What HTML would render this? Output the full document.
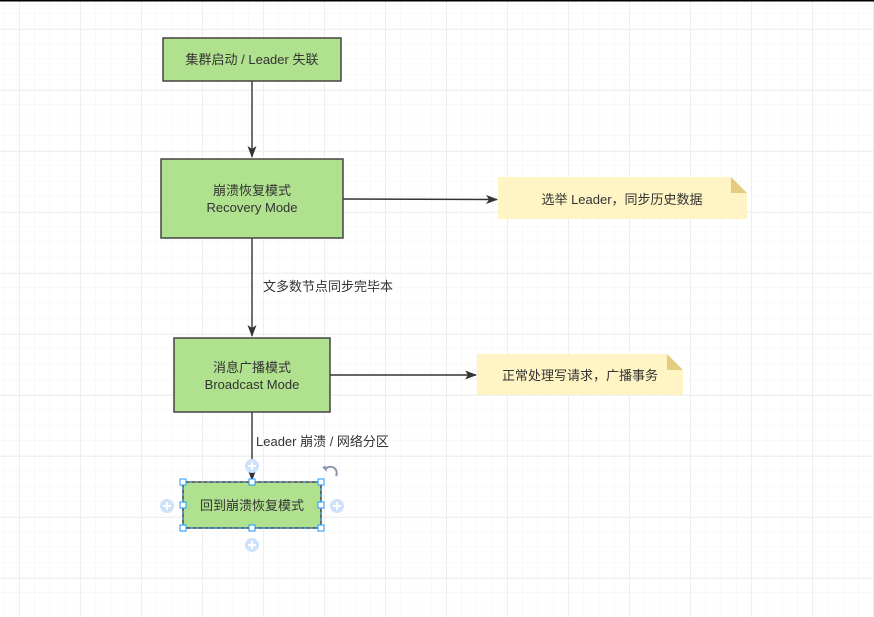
<!DOCTYPE html>
<html><head><meta charset="utf-8"><style>
body{margin:0;width:874px;height:617px;overflow:hidden;background:#fff}
svg{display:block}
text{font-family:"Liberation Sans","Noto Sans CJK SC",sans-serif;font-size:13px;fill:#333}
</style></head><body>
<svg width="874" height="617" viewBox="0 0 874 617">
<defs>
<pattern id="minor" x="4" y="13" width="15.25" height="15.25" patternUnits="userSpaceOnUse">
<path d="M0 0H15.25M0 0V15.25" stroke="#f3f3f3" stroke-width="1" fill="none"/></pattern>
<pattern id="major" x="19" y="29" width="61" height="61" patternUnits="userSpaceOnUse">
<path d="M0 0H61M0 0V61" stroke="#ebebeb" stroke-width="1.5" fill="none"/></pattern>
<marker id="a" markerWidth="12" markerHeight="9" refX="11" refY="4.5" orient="auto" markerUnits="userSpaceOnUse"><path d="M0 0L12 4.5L0 9L3 4.5Z" fill="#333"/></marker>
</defs>
<rect width="874" height="617" fill="url(#minor)"/>
<rect width="874" height="617" fill="url(#major)"/>
<rect x="0" y="0" width="874" height="1.5" fill="#000"/>
<g stroke="#333" stroke-width="1.4" fill="none">
<path d="M252 81V157" marker-end="url(#a)"/>
<path d="M252 238V336" marker-end="url(#a)"/>
<path d="M252 412V480" marker-end="url(#a)"/>
<path d="M343 199L497 199.5" marker-end="url(#a)"/>
<path d="M330 375H476" marker-end="url(#a)"/>
</g>
<g fill="#b0e18f" stroke="#444" stroke-width="1.5">
<rect x="163" y="38" width="178" height="43"/>
<rect x="161" y="159" width="182" height="79"/>
<rect x="174" y="338" width="156" height="74"/>
<rect x="183" y="482" width="138" height="46"/>
</g>
<rect x="183" y="482" width="138" height="46" fill="none" stroke="#29f" stroke-dasharray="3 3" stroke-width="1"/>
<path d="M498 177H731L747 193V219H498Z" fill="#fff4c3"/>
<path d="M731 177V193H747Z" fill="#e3cb80"/>
<path d="M477 354H667L683 370V395H477Z" fill="#fff4c3"/>
<path d="M667 354V370H683Z" fill="#e3cb80"/>
<g text-anchor="middle">
<text x="252" y="64">集群启动 / Leader 失联</text>
<text x="252" y="195">崩溃恢复模式</text>
<text x="252" y="212">Recovery Mode</text>
<text x="252" y="372">消息广播模式</text>
<text x="252" y="389">Broadcast Mode</text>
<text x="252" y="510">回到崩溃恢复模式</text>
<text x="622" y="204">选举 Leader，同步历史数据</text>
<text x="580" y="380">正常处理写请求，广播事务</text>
</g>
<text x="263" y="291">文多数节点同步完毕本</text>
<text x="256" y="446">Leader 崩溃 / 网络分区</text>
<g fill="#cfe2fb">
<circle cx="252" cy="466" r="7"/><circle cx="252" cy="545" r="7"/>
<circle cx="167" cy="506" r="7"/><circle cx="337" cy="506" r="7"/>
</g>
<g stroke="#fff" stroke-width="2">
<path d="M248 466h8M252 462v8M248 545h8M252 541v8M163 506h8M167 502v8M333 506h8M337 502v8"/>
</g>
<g fill="#fff" stroke="#29f" stroke-width="1">
<rect x="180" y="479" width="6" height="6"/><rect x="249" y="479" width="6" height="6"/><rect x="318" y="479" width="6" height="6"/>
<rect x="180" y="502" width="6" height="6"/><rect x="318" y="502" width="6" height="6"/>
<rect x="180" y="525" width="6" height="6"/><rect x="249" y="525" width="6" height="6"/><rect x="318" y="525" width="6" height="6"/>
</g>
<path d="M325 470a6 6 0 1 1 11 6" stroke="#8a9ab0" stroke-width="2" fill="none"/>
<path d="M322 467l5 5l-1 -6z" fill="#8a9ab0"/>
</svg>
</body></html>
